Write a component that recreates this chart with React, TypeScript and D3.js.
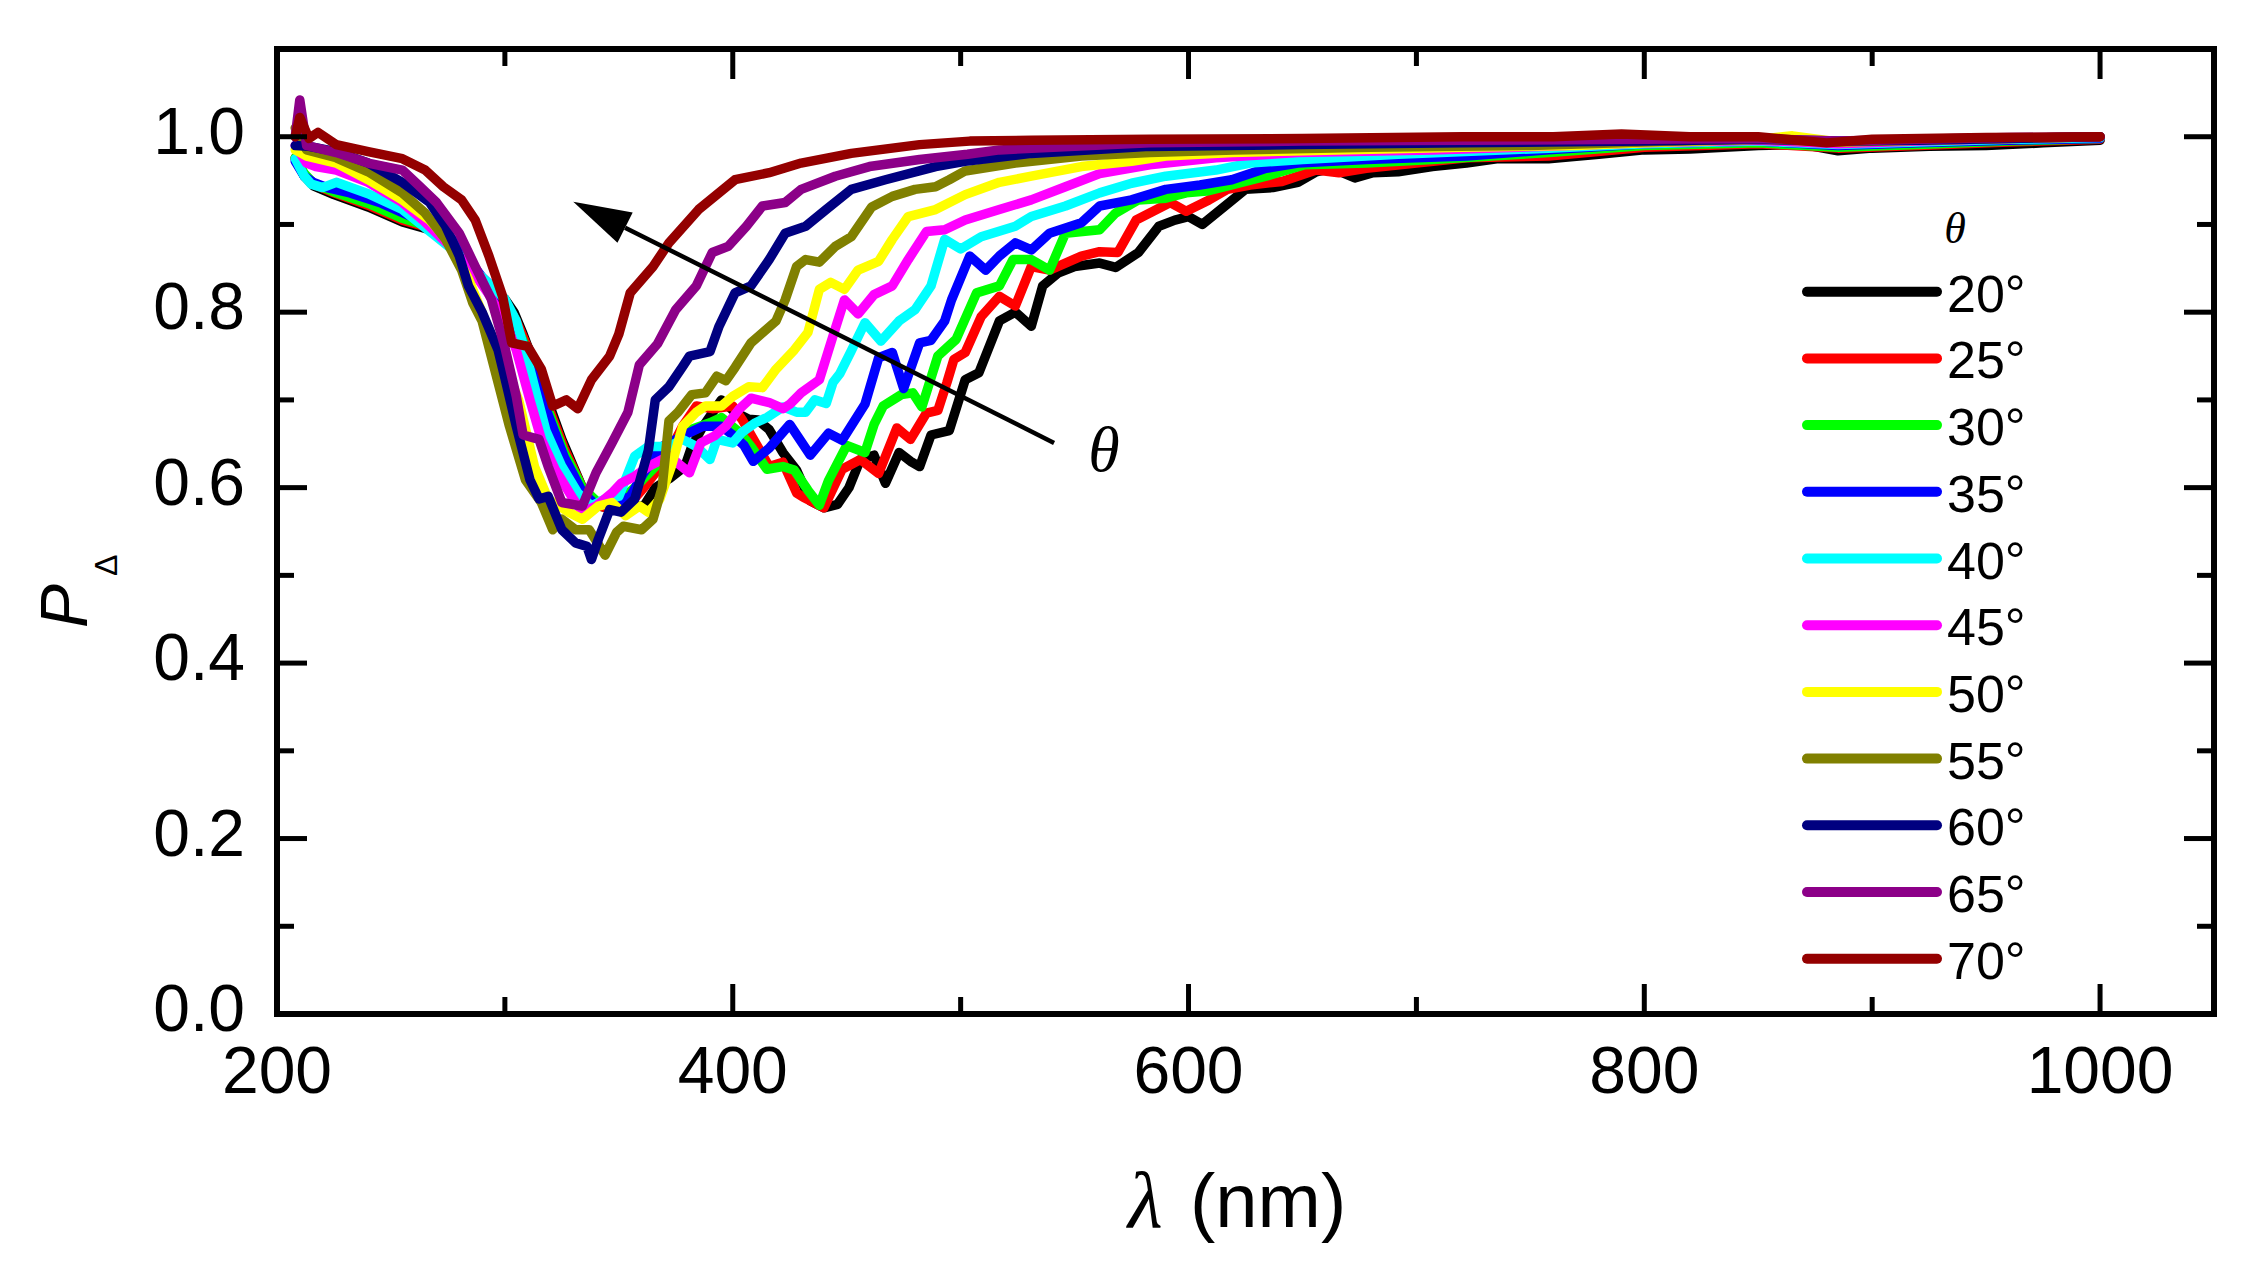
import { useEffect, useRef } from 'react'
import * as d3 from 'd3'

const W = 2247
const H = 1274
const M = { left: 277, right: 2214, top: 49, bottom: 1014 }

const SANS = '"Liberation Sans", Arial, sans-serif'
const SERIF = '"Liberation Serif", "Times New Roman", serif'

const ANGLES = ['20°', '25°', '30°', '35°', '40°', '45°', '50°', '55°', '60°', '65°', '70°']
const COLORS = [
  '#000000', '#ff0000', '#00ff00', '#0000ff', '#00ffff', '#ff00ff',
  '#ffff00', '#808000', '#000080', '#8c0088', '#940000',
]

type Pt = [number, number]

// [wavelength nm, P_delta]
const P20: Pt[] = [
  [208, 0.975], [212, 0.955], [216, 0.944], [225, 0.934], [240, 0.92], [255, 0.903], [267, 0.894],
  [274, 0.882], [281, 0.862], [289, 0.838], [296, 0.822], [300, 0.815], [304, 0.8], [308, 0.775],
  [316, 0.72], [325, 0.655], [334, 0.6], [340, 0.58], [348, 0.575], [355, 0.578], [361, 0.579],
  [366, 0.6], [372, 0.61], [379, 0.624], [382, 0.647], [387, 0.67], [395, 0.7], [401, 0.686],
  [407, 0.678], [411, 0.677], [416, 0.666], [422, 0.64], [428, 0.62], [434, 0.585], [440, 0.577],
  [446, 0.581], [451, 0.6], [456, 0.632], [462, 0.637], [467, 0.605], [473, 0.64], [478, 0.63],
  [482, 0.624], [487, 0.66], [495, 0.665], [502, 0.723], [508, 0.731], [517, 0.79], [524, 0.8],
  [531, 0.784], [536, 0.83], [543, 0.845], [550, 0.852], [561, 0.856], [568, 0.851], [578, 0.868],
  [587, 0.898], [594, 0.905], [600, 0.909], [606, 0.9], [616, 0.921], [625, 0.94], [637, 0.942],
  [648, 0.948], [656, 0.96], [663, 0.964], [673, 0.953], [681, 0.959], [692, 0.96], [707, 0.966],
  [722, 0.97], [736, 0.975], [758, 0.975], [780, 0.98], [800, 0.985], [820, 0.986], [850, 0.99],
  [870, 0.991], [885, 0.984], [900, 0.987], [925, 0.989], [950, 0.99], [975, 0.993], [1000, 0.996],
]
const P25: Pt[] = [
  [208, 0.976], [212, 0.957], [216, 0.946], [225, 0.936], [240, 0.922], [255, 0.905], [267, 0.896],
  [274, 0.884], [281, 0.864], [289, 0.84], [296, 0.822], [300, 0.812], [305, 0.79], [310, 0.76],
  [318, 0.7], [326, 0.645], [334, 0.6], [340, 0.58], [348, 0.575], [355, 0.582], [361, 0.6],
  [370, 0.63], [378, 0.67], [384, 0.693], [391, 0.69], [400, 0.693], [404, 0.678], [410, 0.651],
  [416, 0.624], [422, 0.629], [428, 0.594], [431, 0.589], [440, 0.577], [448, 0.621], [456, 0.632],
  [464, 0.616], [472, 0.668], [478, 0.655], [485, 0.685], [490, 0.688], [494, 0.72], [497, 0.746],
  [502, 0.754], [509, 0.795], [517, 0.818], [524, 0.807], [531, 0.852], [539, 0.848], [546, 0.856],
  [553, 0.864], [561, 0.869], [569, 0.868], [577, 0.905], [583, 0.913], [592, 0.925], [599, 0.915],
  [609, 0.928], [617, 0.94], [627, 0.945], [641, 0.949], [656, 0.962], [666, 0.959], [678, 0.964],
  [700, 0.97], [722, 0.976], [758, 0.978], [800, 0.988], [850, 0.992], [885, 0.987], [920, 0.99],
  [960, 0.994], [1000, 0.997],
]
const P30: Pt[] = [
  [208, 0.976], [212, 0.958], [216, 0.947], [225, 0.937], [240, 0.924], [255, 0.907], [267, 0.897],
  [274, 0.886], [281, 0.866], [289, 0.842], [296, 0.822], [300, 0.81], [305, 0.785], [310, 0.755],
  [318, 0.695], [326, 0.64], [334, 0.6], [340, 0.585], [348, 0.58], [357, 0.6], [369, 0.632],
  [378, 0.663], [390, 0.674], [395, 0.68], [403, 0.663], [408, 0.647], [415, 0.621], [422, 0.624],
  [427, 0.62], [433, 0.597], [438, 0.58], [442, 0.608], [450, 0.648], [458, 0.64], [462, 0.672],
  [466, 0.693], [474, 0.706], [479, 0.708], [483, 0.692], [490, 0.75], [498, 0.769], [507, 0.822],
  [517, 0.83], [523, 0.86], [531, 0.86], [539, 0.848], [546, 0.89], [561, 0.894], [568, 0.913],
  [578, 0.928], [590, 0.93], [599, 0.936], [608, 0.938], [619, 0.945], [634, 0.955], [651, 0.968],
  [678, 0.97], [707, 0.974], [758, 0.982], [800, 0.99], [850, 0.993], [885, 0.988], [920, 0.991],
  [960, 0.995], [1000, 0.998],
]
const P35: Pt[] = [
  [208, 0.972], [212, 0.955], [216, 0.948], [222, 0.942], [232, 0.936], [245, 0.925], [258, 0.91],
  [268, 0.9], [276, 0.886], [283, 0.864], [290, 0.84], [296, 0.825], [300, 0.81], [305, 0.785],
  [310, 0.75], [318, 0.69], [326, 0.635], [334, 0.595], [340, 0.58], [348, 0.582], [355, 0.59],
  [361, 0.617], [369, 0.647], [378, 0.659], [387, 0.67], [395, 0.67], [400, 0.66], [405, 0.648],
  [409, 0.63], [416, 0.645], [425, 0.672], [434, 0.637], [442, 0.662], [448, 0.654], [458, 0.695],
  [464, 0.748], [470, 0.754], [475, 0.713], [482, 0.765], [487, 0.768], [493, 0.79], [496, 0.814],
  [504, 0.864], [511, 0.848], [517, 0.864], [524, 0.879], [531, 0.871], [539, 0.89], [553, 0.902],
  [561, 0.921], [575, 0.928], [590, 0.94], [605, 0.945], [619, 0.951], [634, 0.964], [648, 0.97],
  [678, 0.974], [722, 0.978], [758, 0.985], [800, 0.992], [850, 0.995], [885, 0.99], [920, 0.993],
  [960, 0.996], [1000, 0.998],
]
const P40: Pt[] = [
  [208, 0.975], [212, 0.955], [215, 0.946], [220, 0.942], [226, 0.948], [240, 0.935], [255, 0.917],
  [270, 0.886], [280, 0.865], [290, 0.84], [300, 0.815], [305, 0.79], [310, 0.745], [318, 0.665],
  [325, 0.624], [332, 0.594], [338, 0.579], [344, 0.587], [350, 0.59], [357, 0.636], [363, 0.647],
  [372, 0.647], [378, 0.655], [384, 0.647], [390, 0.632], [393, 0.655], [400, 0.651], [404, 0.663],
  [410, 0.674], [415, 0.68], [422, 0.692], [428, 0.686], [432, 0.686], [436, 0.7], [441, 0.696],
  [444, 0.72], [447, 0.73], [452, 0.756], [458, 0.788], [465, 0.767], [473, 0.79], [480, 0.803],
  [487, 0.83], [493, 0.883], [500, 0.872], [509, 0.886], [524, 0.898], [531, 0.909], [546, 0.921],
  [561, 0.936], [575, 0.947], [590, 0.955], [612, 0.962], [627, 0.97], [650, 0.974], [692, 0.98],
  [758, 0.987], [800, 0.992], [850, 0.995], [885, 0.991], [920, 0.994], [960, 0.997], [1000, 0.999],
]
const P45: Pt[] = [
  [208, 0.99], [213, 0.97], [217, 0.966], [226, 0.962], [240, 0.948], [255, 0.925], [264, 0.905],
  [276, 0.875], [285, 0.85], [293, 0.82], [300, 0.79], [305, 0.757], [311, 0.7], [316, 0.655],
  [322, 0.621], [330, 0.587], [334, 0.572], [340, 0.579], [347, 0.594], [351, 0.605], [357, 0.613],
  [363, 0.624], [372, 0.636], [381, 0.617], [386, 0.651], [392, 0.659], [397, 0.67], [403, 0.69],
  [408, 0.702], [416, 0.697], [422, 0.69], [425, 0.695], [430, 0.708], [438, 0.723], [444, 0.773],
  [449, 0.814], [455, 0.798], [462, 0.82], [470, 0.83], [477, 0.86], [485, 0.892], [493, 0.894],
  [502, 0.905], [517, 0.917], [531, 0.928], [546, 0.943], [561, 0.958], [583, 0.968], [612, 0.976],
  [648, 0.982], [707, 0.985], [758, 0.989], [800, 0.993], [850, 0.996], [885, 0.992], [920, 0.995],
  [960, 0.998], [1000, 1.0],
]
const P50: Pt[] = [
  [208, 0.985], [213, 0.978], [226, 0.97], [240, 0.951], [255, 0.928], [267, 0.905], [276, 0.879],
  [284, 0.838], [293, 0.78], [300, 0.74], [306, 0.7], [313, 0.624], [319, 0.587], [328, 0.572],
  [334, 0.564], [341, 0.579], [347, 0.583], [353, 0.568], [359, 0.579], [363, 0.572], [368, 0.587],
  [373, 0.624], [378, 0.67], [384, 0.686], [388, 0.693], [395, 0.693], [400, 0.704], [407, 0.715],
  [413, 0.714], [419, 0.735], [427, 0.757], [433, 0.777], [438, 0.826], [443, 0.834], [449, 0.826],
  [455, 0.848], [464, 0.858], [470, 0.883], [477, 0.909], [489, 0.917], [502, 0.934], [517, 0.948],
  [531, 0.955], [553, 0.966], [575, 0.972], [590, 0.978], [619, 0.982], [665, 0.985], [720, 0.988],
  [770, 0.99], [800, 0.993], [850, 0.997], [865, 1.001], [885, 0.994], [920, 0.996], [960, 0.998],
  [1000, 1.0],
]
const P55: Pt[] = [
  [208, 1.01], [213, 0.985], [226, 0.976], [240, 0.96], [255, 0.936], [265, 0.913], [274, 0.883],
  [281, 0.848], [286, 0.81], [290, 0.79], [294, 0.75], [302, 0.67], [309, 0.609], [316, 0.583],
  [321, 0.552], [325, 0.564], [331, 0.552], [337, 0.552], [344, 0.523], [349, 0.549], [352, 0.556],
  [360, 0.552], [365, 0.564], [369, 0.6], [372, 0.676], [376, 0.686], [382, 0.706], [388, 0.708],
  [393, 0.727], [397, 0.722], [401, 0.737], [408, 0.765], [419, 0.79], [423, 0.814], [428, 0.852],
  [432, 0.86], [438, 0.857], [445, 0.875], [452, 0.886], [461, 0.92], [470, 0.932], [480, 0.94],
  [489, 0.943], [495, 0.951], [502, 0.961], [524, 0.97], [553, 0.978], [583, 0.982], [620, 0.985],
  [680, 0.988], [750, 0.99], [800, 0.994], [850, 0.997], [885, 0.994], [920, 0.996], [960, 0.998],
  [1000, 1.0],
]
const P60: Pt[] = [
  [208, 0.99], [214, 0.989], [226, 0.983], [240, 0.97], [255, 0.948], [267, 0.925], [274, 0.898],
  [280, 0.864], [284, 0.83], [290, 0.8], [297, 0.757], [300, 0.725], [305, 0.67], [311, 0.609],
  [315, 0.587], [319, 0.59], [325, 0.552], [331, 0.537], [336, 0.533], [338, 0.518], [341, 0.541],
  [346, 0.575], [351, 0.572], [357, 0.587], [363, 0.643], [366, 0.7], [372, 0.715], [378, 0.738],
  [381, 0.75], [390, 0.755], [394, 0.784], [401, 0.822], [408, 0.83], [416, 0.86], [423, 0.89],
  [432, 0.898], [441, 0.917], [452, 0.94], [467, 0.951], [489, 0.966], [502, 0.972], [531, 0.981],
  [583, 0.989], [650, 0.991], [720, 0.993], [800, 0.995], [850, 0.997], [885, 0.995], [920, 0.996],
  [960, 0.998], [1000, 1.0],
]
const P65: Pt[] = [
  [208, 1.0], [210, 1.042], [213, 0.99], [226, 0.982], [240, 0.97], [255, 0.962], [262, 0.945],
  [270, 0.925], [280, 0.89], [287, 0.852], [294, 0.815], [300, 0.76], [305, 0.704], [308, 0.66],
  [315, 0.655], [319, 0.624], [325, 0.583], [334, 0.579], [340, 0.617], [347, 0.651], [354, 0.686],
  [359, 0.74], [367, 0.764], [375, 0.803], [384, 0.83], [391, 0.868], [398, 0.875], [406, 0.898],
  [413, 0.921], [423, 0.925], [430, 0.94], [445, 0.955], [460, 0.966], [482, 0.974], [503, 0.98],
  [517, 0.985], [583, 0.993], [650, 0.995], [720, 0.996], [800, 0.997], [850, 0.998], [885, 0.995],
  [920, 0.997], [960, 0.999], [1000, 1.0],
]
const P70: Pt[] = [
  [208, 1.0], [210, 1.022], [214, 0.998], [218, 1.005], [226, 0.991], [240, 0.983], [255, 0.975],
  [265, 0.962], [273, 0.943], [281, 0.928], [287, 0.905], [293, 0.864], [299, 0.818], [303, 0.765],
  [310, 0.761], [316, 0.735], [321, 0.693], [327, 0.7], [332, 0.69], [338, 0.723], [346, 0.75],
  [350, 0.775], [355, 0.822], [365, 0.852], [372, 0.879], [385, 0.917], [401, 0.951], [416, 0.959],
  [430, 0.97], [452, 0.981], [482, 0.991], [504, 0.995], [531, 0.996], [583, 0.997], [650, 0.998],
  [720, 1.0], [760, 1.0], [790, 1.003], [820, 1.0], [850, 1.0], [880, 0.993], [900, 0.997],
  [950, 0.999], [1000, 1.0],
]

const SERIES = [P20, P25, P30, P35, P40, P45, P50, P55, P60, P65, P70]

const X_MAJOR = [200, 400, 600, 800, 1000]
const X_MINOR = [300, 500, 700, 900]
const Y_MAJOR = [0, 0.2, 0.4, 0.6, 0.8, 1.0]
const Y_MINOR = [0.1, 0.3, 0.5, 0.7, 0.9]

// annotation arrow in data space: tail -> head
const ARROW_TAIL: Pt = [541, 0.651]
const ARROW_HEAD: Pt = [330, 0.926]

export default function App() {
  const svgRef = useRef<SVGSVGElement>(null)

  useEffect(() => {
    if (!svgRef.current) return
    const svg = d3.select(svgRef.current)
    svg.selectAll('*').remove()

    const x = d3.scaleLinear().domain([200, 1050]).range([M.left, M.right])
    const y = d3.scaleLinear().domain([0, 1.1]).range([M.bottom, M.top])

    svg.append('rect').attr('width', W).attr('height', H).attr('fill', '#fff')

    // curves
    const line = d3
      .line<Pt>()
      .x((d) => x(d[0]))
      .y((d) => y(d[1]))

    svg
      .append('g')
      .selectAll('path')
      .data(SERIES)
      .join('path')
      .attr('d', (d) => line(d))
      .attr('fill', 'none')
      .attr('stroke', (_, i) => COLORS[i])
      .attr('stroke-width', 9.5)
      .attr('stroke-linejoin', 'round')
      .attr('stroke-linecap', 'round')

    // frame + inward ticks on all four sides
    const axes = svg.append('g').attr('stroke', '#000')
    const tick = (v: number, len: number, horiz: boolean) => {
      if (horiz) {
        axes.append('line').attr('x1', x(v)).attr('x2', x(v)).attr('y1', M.bottom).attr('y2', M.bottom - len).attr('stroke-width', 5)
        axes.append('line').attr('x1', x(v)).attr('x2', x(v)).attr('y1', M.top).attr('y2', M.top + len).attr('stroke-width', 5)
      } else {
        axes.append('line').attr('y1', y(v)).attr('y2', y(v)).attr('x1', M.left).attr('x2', M.left + len).attr('stroke-width', 5)
        axes.append('line').attr('y1', y(v)).attr('y2', y(v)).attr('x1', M.right).attr('x2', M.right - len).attr('stroke-width', 5)
      }
    }
    X_MAJOR.forEach((v) => tick(v, 30, true))
    X_MINOR.forEach((v) => tick(v, 17, true))
    Y_MAJOR.forEach((v) => tick(v, 30, false))
    Y_MINOR.forEach((v) => tick(v, 17, false))

    axes
      .append('rect')
      .attr('x', M.left)
      .attr('y', M.top)
      .attr('width', M.right - M.left)
      .attr('height', M.bottom - M.top)
      .attr('fill', 'none')
      .attr('stroke-width', 6)

    // tick labels
    svg
      .append('g')
      .selectAll('text')
      .data(X_MAJOR)
      .join('text')
      .attr('x', (d) => x(d))
      .attr('y', M.bottom + 79)
      .attr('text-anchor', 'middle')
      .attr('font-family', SANS)
      .attr('font-size', 66)
      .text((d) => d)

    svg
      .append('g')
      .selectAll('text')
      .data(Y_MAJOR)
      .join('text')
      .attr('x', M.left - 32)
      .attr('y', (d) => y(d) + 17)
      .attr('text-anchor', 'end')
      .attr('font-family', SANS)
      .attr('font-size', 66)
      .text((d) => d3.format('.1f')(d))

    // axis titles
    const xt = svg.append('text').attr('y', 1227).attr('font-size', 76)
    xt.append('tspan').attr('x', 1128).attr('font-family', SERIF).attr('font-style', 'italic').attr('font-size', 80).text('λ')
    xt.append('tspan').attr('x', 1190).attr('font-family', SANS).text('(nm)')

    const yt = svg
      .append('text')
      .attr('transform', 'translate(87,628) rotate(-90)')
      .attr('font-family', SANS)
    yt.append('tspan').attr('font-style', 'italic').attr('font-size', 66).text('P')
    yt.append('tspan').attr('font-size', 32).attr('dx', 8).attr('dy', 30).text('Δ')

    // arrow annotation
    const [tx, ty] = [x(ARROW_TAIL[0]), y(ARROW_TAIL[1])]
    const [hx, hy] = [x(ARROW_HEAD[0]), y(ARROW_HEAD[1])]
    const ang = Math.atan2(hy - ty, hx - tx)
    const headLen = 58
    const headHalf = 17
    const bx = hx - headLen * Math.cos(ang)
    const by = hy - headLen * Math.sin(ang)
    svg
      .append('line')
      .attr('x1', tx)
      .attr('y1', ty)
      .attr('x2', bx)
      .attr('y2', by)
      .attr('stroke', '#000')
      .attr('stroke-width', 4.5)
    svg
      .append('polygon')
      .attr(
        'points',
        [
          [hx, hy],
          [bx + headHalf * Math.sin(ang), by - headHalf * Math.cos(ang)],
          [bx - headHalf * Math.sin(ang), by + headHalf * Math.cos(ang)],
        ]
          .map((p) => p.join(','))
          .join(' ')
      )
      .attr('fill', '#000')
    svg
      .append('text')
      .attr('x', tx + 50)
      .attr('y', ty + 28)
      .attr('text-anchor', 'middle')
      .attr('font-family', SERIF)
      .attr('font-style', 'italic')
      .attr('font-size', 64)
      .text('θ')

    // legend
    const lg = svg.append('g')
    lg.append('text')
      .attr('x', 1955)
      .attr('y', 243)
      .attr('text-anchor', 'middle')
      .attr('font-family', SERIF)
      .attr('font-style', 'italic')
      .attr('font-size', 44)
      .text('θ')
    const rows = lg
      .selectAll('g.row')
      .data(ANGLES)
      .join('g')
      .attr('class', 'row')
      .attr('transform', (_, i) => `translate(0,${291.7 + 66.7 * i})`)
    rows
      .append('line')
      .attr('x1', 1807)
      .attr('x2', 1937)
      .attr('stroke', (_, i) => COLORS[i])
      .attr('stroke-width', 10)
      .attr('stroke-linecap', 'round')
    rows
      .append('text')
      .attr('x', 1947)
      .attr('y', 20)
      .attr('font-family', SANS)
      .attr('font-size', 52)
      .text((d) => d)
  }, [])

  return (
    <svg
      ref={svgRef}
      width={W}
      height={H}
      style={{ display: 'block', position: 'absolute', left: 0, top: 0 }}
    />
  )
}
